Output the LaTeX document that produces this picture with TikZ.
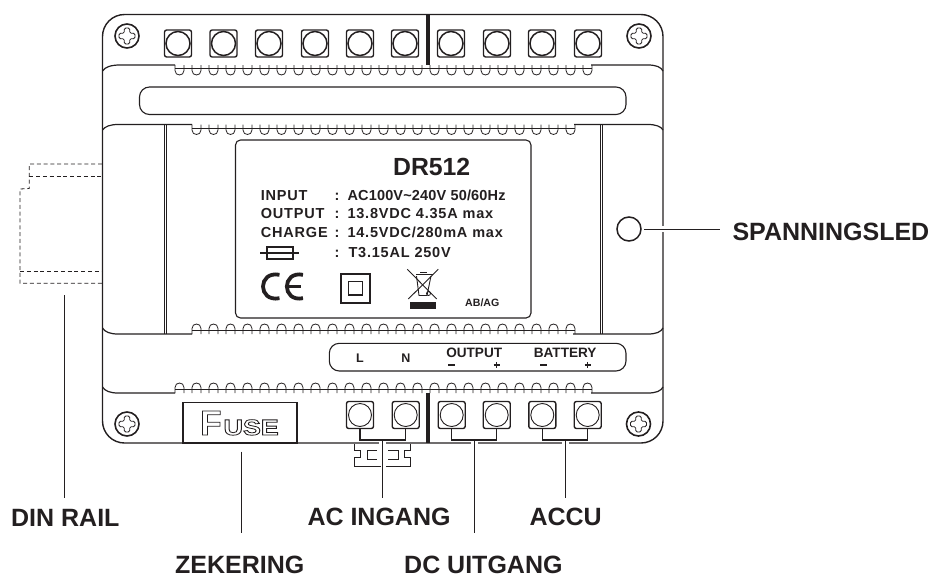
\documentclass[tikz,border=0pt]{standalone}
\usepackage{fontspec}
\setmainfont{Liberation Sans}
\newfontfamily\specfont[LetterSpace=5.5]{Liberation Sans}
\newfontfamily\specfonttight[LetterSpace=1.2]{Liberation Sans}
\definecolor{ink}{HTML}{231F20}
\newcommand{\bumprow}[4]{% start x, last index, base y, direction
  \draw[thin line] (#1,#3+3.5*#4) -- ({#1+17*#2+9},#3+3.5*#4);
  \foreach \i in {0,...,#2}{
    \pgfmathsetmacro{\xa}{#1+17*\i}
    \pgfmathsetmacro{\xb}{\xa+9}
    \draw[thin line] (\xa,#3) -- (\xa,#3+5.5*#4)
      .. controls (\xa,#3+11.5*#4) and (\xb,#3+11.5*#4) .. (\xb,#3+5.5*#4) -- (\xb,#3);
  }
}
\newcommand{\screw}[2]{%
  \draw[body line,line width=1.6pt] (#1) circle[radius=12pt];
  \draw[thin line,rounded corners=1.5pt,shift={(#1)}]
    (-2.7,-8) -- (2.7,-8) -- (2.7,-2.7) -- (8,-2.7) -- (8,2.7) -- (2.7,2.7) -- (2.7,8)
    -- (-2.7,8) -- (-2.7,2.7) -- (-8,2.7) -- (-8,-2.7) -- (-2.7,-2.7) -- cycle;
}
\tikzset{
  body line/.style={draw=ink,line width=1.2pt},
  thin line/.style={draw=ink,line width=0.8pt},
  leader/.style={draw=ink,line width=0.9pt},
  halo/.style={draw=white,line width=1.8pt},
  dash line/.style={draw=ink,line width=0.8pt,dash pattern=on 4pt off 2.8pt},
  term/.style={draw=ink,line width=1.4pt,rounded corners=2.2pt,minimum size=27pt,inner sep=0pt,shape=rectangle},
  lab/.style={font=\bfseries\fontsize{25}{25}\selectfont,anchor=base west,inner sep=0pt,text=ink},
  spec/.style={font=\specfont\bfseries\fontsize{14.5}{14.5}\selectfont,anchor=base west,inner sep=0pt,text=ink},
  mark text/.style={font=\bfseries\fontsize{13.6}{13.6}\selectfont,anchor=base,inner sep=0pt,text=ink},
}
\begin{document}
\begin{tikzpicture}[x=1pt,y=-1pt]
\useasboundingbox (0,0) rectangle (929,576);
% DIN rail
\draw[dash line] (102,164) -- (29.3,164) -- (29.3,188.5) -- (20,189) -- (20,283.3) -- (102,283.3);
\draw[dash line] (29.3,176.3) -- (102,176.3);
\draw[dash line] (20,271) -- (102,271);
% body
\draw[body line,line width=1.4pt,rounded corners=22pt] (102.5,14.5) rectangle (663,443);
% band lines
\draw[body line] (102.5,71) .. controls (105,67) and (111,65) .. (120,65) -- (175,65);
\draw[body line] (591,65) -- (648,65) .. controls (656,65) and (661,67) .. (663,71);
\draw[body line] (102.5,130) .. controls (105,126.5) and (110,124.5) .. (118,124.5) -- (192,124.5);
\draw[body line] (574,124.5) -- (648,124.5) .. controls (656,124.5) and (661,126.5) .. (663,130);
\draw[body line] (102.5,328) .. controls (105,332) and (110,334) .. (118,334) -- (192,334);
\draw[body line] (573,334) -- (648,334) .. controls (656,334) and (661,332) .. (663,328);
\draw[body line] (102.5,387) .. controls (105,391) and (110,393) .. (118,393) -- (175,393);
\draw[body line] (591,393) -- (648,393) .. controls (656,393) and (661,391) .. (663,387);
\bumprow{175}{24}{65}{1}
\bumprow{192}{22}{124.5}{1}
\bumprow{192}{22}{334}{-1}
\bumprow{175}{24}{393}{-1}
% vertical double lines
\draw[thin line] (164.5,124.5) -- (164.5,334);
\draw[thin line] (166.3,124.5) -- (166.3,334);
\draw[thin line] (600.5,124.5) -- (600.5,334);
\draw[thin line] (602,124.5) -- (602,334);
% thick separators
\fill[ink] (426.3,14.5) rectangle (429.8,65);
\fill[ink] (426.3,393) rectangle (429.8,443);
% slot and panels
\node[draw=ink,line width=1.1pt,rounded corners=10pt,inner sep=0pt,minimum width=486.5pt,minimum height=27.5pt] (slot) at (382.75,100.75) {};
\node[draw=ink,line width=1.1pt,rounded corners=5pt,inner sep=0pt,minimum width=295.5pt,minimum height=178pt] (plate) at (383.25,229) {};
\node[draw=ink,line width=1.1pt,rounded corners=10pt,inner sep=0pt,minimum width=296.7pt,minimum height=27.7pt] (marks) at (477.65,357.15) {};
% screws
\coordinate (s1) at (127,36); \screw{s1}{}
\coordinate (s2) at (639,36); \screw{s2}{}
\coordinate (s3) at (127,424); \screw{s3}{}
\coordinate (s4) at (638.5,424); \screw{s4}{}
% top terminals
\foreach \n/\x in {1/178,2/223.5,3/269,4/315,5/360,6/405,7/451,8/497,9/542,10/588}{
  \node[term] (t\n) at (\x,43.5) {};
  \draw[draw=ink,line width=1.5pt] (t\n) circle[radius=12pt];
}
% bottom terminals
\foreach \n/\x in {1/360,2/405.7,3/451.7,4/496.7,5/542.3,6/587.7}{
  \node[term] (b\n) at (\x,415) {};
  \draw[draw=ink,line width=0.9pt] (b\n) circle[radius=11.5pt];
}
% plate text
\node[font=\bfseries\fontsize{24.8}{24.8}\selectfont,anchor=base,inner sep=0pt,text=ink] (model) at (431.7,175.5) {DR512};
\node[spec] (i1) at (260.7,200) {INPUT};
\node[spec] (i2) at (260.7,218.7) {OUTPUT};
\node[spec] (i3) at (260.7,237.7) {CHARGE};
\node[spec] (c1) at (334.5,200) {:};
\node[spec] (c2) at (334.5,218.7) {:};
\node[spec] (c3) at (334.5,237.7) {:};
\node[spec] (c4) at (334.5,257) {:};
\node[spec,font=\specfonttight\bfseries\fontsize{14.5}{14.5}\selectfont] (v1) at (347.3,200) {AC100V\textasciitilde240V 50/60Hz};
\node[spec] (v2) at (347.3,218.7) {13.8VDC 4.35A max};
\node[spec] (v3) at (347.3,237.7) {14.5VDC/280mA max};
\node[spec] (v4) at (348.3,257) {T3.15AL 250V};
% fuse symbol
\draw[draw=ink,line width=1.7pt] (260,253.3) -- (298.7,253.3);
\draw[draw=ink,line width=1.7pt] (266.7,247.3) rectangle (292.7,259.3);
% CE
\draw[draw=ink,line width=3.8pt] (279.5,274.8) .. controls (257.5,270.5) and (257.5,302.5) .. (279.5,298.2);
\draw[draw=ink,line width=3.8pt] (303,274.8) .. controls (281.5,270.5) and (281.5,302.5) .. (303,298.2);
\draw[draw=ink,line width=3pt] (288,286.5) -- (301,286.5);
% double insulation
\draw[draw=ink,line width=1.8pt] (340.7,274) rectangle (369.7,302.7);
\draw[draw=ink,line width=1.4pt] (348.3,281.7) rectangle (362.7,295);
% WEEE
\draw[draw=ink,line width=0.9pt] (407.3,269.3) -- (436.7,299);
\draw[draw=ink,line width=0.9pt] (438.3,269.3) -- (408.3,299);
\draw[draw=ink,line width=0.9pt] (416.5,276) -- (419,295.5) -- (427,295.5) -- (431,276);
\draw[draw=ink,line width=1.8pt] (416,274.5) -- (433,274.5);
\draw[draw=ink,line width=1pt] (420,272.5) -- (427,272.5);
\draw[draw=ink,line width=0.8pt] (428.5,293.5) circle[radius=2pt];
\fill[ink] (410,302.3) rectangle (436,309);
\node[font=\bfseries\fontsize{10.6}{10.6}\selectfont,anchor=base west,inner sep=0pt,text=ink] (abag) at (465,306) {AB/AG};
% marks text
\node[mark text,font=\bfseries\fontsize{12.5}{12.5}\selectfont] (mL) at (360,362.7) {L};
\node[mark text,font=\bfseries\fontsize{12.5}{12.5}\selectfont] (mN) at (406,362.7) {N};
\node[mark text] (mO) at (474.2,357.7) {OUTPUT};
\node[mark text] (mB) at (565.2,357.7) {BATTERY};
\draw[draw=ink,line width=1.6pt] (448.3,365) -- (455,365);
\draw[draw=ink,line width=1.2pt] (493.5,365) -- (500,365) (496.7,361.8) -- (496.7,368.2);
\draw[draw=ink,line width=1.6pt] (540,365) -- (546.5,365);
\draw[draw=ink,line width=1.2pt] (584.5,365) -- (591,365) (587.7,361.8) -- (587.7,368.2);
% fuse holder
\node[draw=ink,line width=1.1pt,inner sep=0pt,minimum width=114pt,minimum height=40.7pt] (fusebox) at (240,422.65) {};
\node[anchor=base west,inner sep=0pt,text=ink] (fusetxt) at (200,435) {\special{pdf:code 1 Tr 0.8 w}\bfseries\fontsize{35}{35}\selectfont F\hspace{2pt}\scalebox{1.22}[1]{\fontsize{22}{22}\selectfont USE}\special{pdf:code 0 Tr 1 w}};
% gaps in the bottom edge
\draw[halo] (379,443) -- (385.6,443);
\draw[halo] (471,443) -- (477.6,443);
\draw[halo] (562,443) -- (568.6,443);
\draw[halo] (663,226) -- (663,232);
% plug
\draw[thin line] (354.3,444) -- (354.3,450) -- (360.7,450) -- (360.7,457.3) -- (354.3,457.3) -- (354.3,466) -- (380.7,466);
\draw[thin line] (376.7,450) -- (367.3,450) -- (367.3,459) -- (376.7,459);
\draw[thin line] (410.7,444) -- (410.7,450) -- (404.7,450) -- (404.7,457.3) -- (410.7,457.3) -- (410.7,466) -- (385.7,466);
\draw[thin line] (388.3,450) -- (398.3,450) -- (398.3,459) -- (388.3,459);
% LED
\node[draw=ink,line width=1.5pt,circle,minimum size=24pt,inner sep=0pt] (led) at (629,229) {};
% labels
\node[lab] (lSp) at (732.3,240.7) {SPANNINGSLED};
\node[lab] (lDin) at (11,526) {DIN RAIL};
\node[lab] (lAc) at (307.3,525.7) {AC INGANG};
\node[lab] (lAccu) at (529.3,525.7) {ACCU};
\node[lab] (lZek) at (175,573.5) {ZEKERING};
\node[lab] (lDc) at (404,573.5) {DC UITGANG};
% connectors
\coordinate (jAc) at (382.3,440); \coordinate (jDc) at (474.3,440); \coordinate (jAccu) at (565.3,440);
\draw[thin line,line width=1.1pt] (b1.south) |- (jAc) -| (b2.south);
\draw[thin line,line width=1.1pt] (b3.south) |- (jDc) -| (b4.south);
\draw[thin line,line width=1.1pt] (b5.south) |- (jAccu) -| (b6.south);
\coordinate (eAc) at (382.3,497.5); \coordinate (eDc) at (474.3,533); \coordinate (eAccu) at (565.3,497.5);
\draw[leader] (jAc) -- (eAc);
\draw[leader] (jDc) -- (eDc);
\draw[leader] (jAccu) -- (eAccu);
\coordinate (dinT) at (64.5,295); \coordinate (dinB) at (64.5,497.5);
\draw[leader] (dinT) -- (dinB);
\coordinate (zekT) at (241.3,451.7); \coordinate (zekB) at (241.3,533);
\draw[leader] (zekT) -- (zekB);
\coordinate (ledL) at (644.3,229); \coordinate (ledR) at (720,229);
\draw[leader] (ledL) -- (ledR);
\end{tikzpicture}
\end{document}
